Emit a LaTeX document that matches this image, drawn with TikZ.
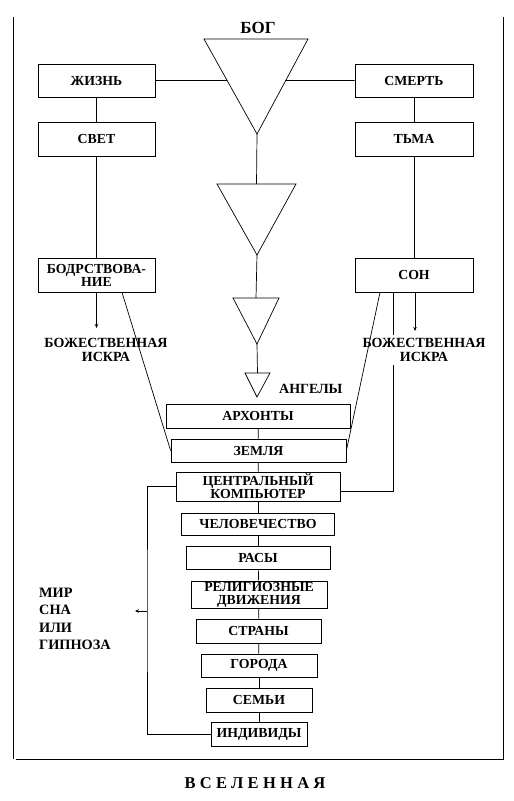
\documentclass[tikz,border=0pt]{standalone}
\usepackage{fontspec}
\setmainfont{Liberation Serif}
\usetikzlibrary{arrows.meta,calc}
\begin{document}
\begin{tikzpicture}[x=1pt,y=-1pt,
  ln/.style={line width=0.7pt},
  bx/.style 2 args={draw,line width=0.8pt,inner sep=1pt,align=center,
     minimum width=#1pt,minimum height=#2pt,
     font=\fontsize{13.8}{13}\selectfont\bfseries},
  lbl/.style={inner sep=2pt,align=center,font=\fontsize{14}{13.3}\selectfont\bfseries},
  arr/.style={ln,-{Stealth[length=4pt,width=3.5pt]}}]
\useasboundingbox (0,0) rectangle (514,801);

% frame
\draw[line width=0.9pt] (13,17) -- (13,759);
\draw[line width=0.9pt] (16,759) -- (504,759);
\draw[line width=0.9pt] (503,17) -- (503,759);

% title
\node[lbl,font=\fontsize{17}{17}\selectfont\bfseries] (bog) at (258,28) {БОГ};

% triangles
\coordinate (t1l) at (204,39); \coordinate (t1r) at (308,39); \coordinate (t1a) at (257,134);
\coordinate (t2l) at (217,184); \coordinate (t2r) at (296,184); \coordinate (t2a) at (257,255);
\coordinate (t3l) at (233,298); \coordinate (t3r) at (279,298); \coordinate (t3a) at (257,344);
\coordinate (t4l) at (245,373); \coordinate (t4r) at (270,373); \coordinate (t4a) at (257,397);
\draw[ln] (t1l) -- (t1r) -- (t1a) -- cycle;
\draw[ln] (t2l) -- (t2r) -- (t2a) -- cycle;
\draw[ln] (t3l) -- (t3r) -- (t3a) -- cycle;
\draw[ln] (t4l) -- (t4r) -- (t4a) -- cycle;
\draw[ln] (t1a) -- ($(t2l)!0.5!(t2r)$);
\draw[ln] (t2a) -- ($(t3l)!0.5!(t3r)$);
\draw[ln] (t3a) -- ($(t4l)!0.5!(t4r)$);

% side boxes
\node[bx={117}{33}] (zhizn) at (96.5,80.5) {ЖИЗНЬ};
\node[bx={118}{33}] (smert) at (414,80.5) {СМЕРТЬ};
\node[bx={117}{34}] (svet) at (96.5,139) {СВЕТ};
\node[bx={118}{34}] (tma) at (414,139) {ТЬМА};
\node[bx={117}{34}] (bodr) at (96.5,275) {БОДРСТВОВА-\\НИЕ};
\node[bx={118}{34}] (son) at (414,275) {СОН};

\draw[ln] (zhizn.east) -- (intersection of t1l--t1a and zhizn.east--smert.west);
\draw[ln] (smert.west) -- (intersection of t1r--t1a and zhizn.east--smert.west);
\draw[ln] (zhizn) -- (svet);
\draw[ln] (smert) -- (tma);
\draw[ln] (svet) -- (bodr);
\draw[ln] (tma) -- (son);

% central column
\node[bx={184}{24}] (arch) at (258,416) {АРХОНТЫ};
\node[bx={175}{23}] (zem) at (258.5,450.5) {ЗЕМЛЯ};
\node[bx={164}{29}] (cpu) at (258,486.5) {ЦЕНТРАЛЬНЫЙ\\КОМПЬЮТЕР};
\node[bx={153}{22}] (chel) at (258,524) {ЧЕЛОВЕЧЕСТВО};
\node[bx={144}{23}] (rasy) at (258,557.5) {РАСЫ};
\node[bx={136}{27}] (rel) at (259,594.5) {РЕЛИГИОЗНЫЕ\\ДВИЖЕНИЯ};
\node[bx={125}{24}] (str) at (258.5,631) {СТРАНЫ};
\node[bx={116}{23}] (gor) at (259,665.5) {ГОРОДА};
\node[bx={106}{24}] (sem) at (259,700) {СЕМЬИ};
\node[bx={96}{24}] (ind) at (259,734) {ИНДИВИДЫ};

\draw[ln] (arch) -- (zem);
\draw[ln] (zem) -- (cpu);
\draw[ln] (cpu) -- (chel);
\draw[ln] (chel) -- (rasy);
\draw[ln] (rasy) -- (rel);
\draw[ln] (rel) -- (str);
\draw[ln] (str) -- (gor);
\draw[ln] (gor) -- (sem);
\draw[ln] (sem) -- (ind);

\node[lbl,anchor=west] (ang) at (277,389) {АНГЕЛЫ};

% right long connector from СОН to computer
\coordinate (rx) at (393,0);
\draw[ln] (son.south -| rx) |- ([yshift=-4.5pt]cpu.east);

% divine spark labels (white background hides the connector)
\node[lbl,fill=white] (iskL) at (106,350) {БОЖЕСТВЕННАЯ\\ИСКРА};
\node[lbl,fill=white,inner ysep=4pt] (iskR) at (424,350) {БОЖЕСТВЕННАЯ\\ИСКРА};

% arrows to spark
\coordinate (aL) at (96.5,328);
\coordinate (aR) at (415,331);
\draw[arr] (bodr.south) -- (aL);
\draw[arr] (son.south -| aR) -- (aR);

% diagonals
\coordinate (dL) at (122,0);
\coordinate (dR) at (380,0);
\draw[ln] (bodr.south -| dL) -- (zem.west);
\draw[ln] (son.south -| dR) -- (zem.east);

% left loop
\coordinate (lp) at (147,611);
\coordinate (lpa) at (135,611);
\draw[ln] (ind.west) -| (lp) |- (cpu.west);
\draw[arr] (lp) -- (lpa);

\node[lbl,anchor=west,align=left,font=\fontsize{14.3}{17.3}\selectfont\bfseries] (mir) at (37,619) {МИР\\СНА\\ИЛИ\\ГИПНОЗА};

\node[lbl,font=\fontsize{16.5}{16}\selectfont\bfseries\addfontfeatures{LetterSpace=26}] (vsel) at (255,783) {ВСЕЛЕННАЯ};
\end{tikzpicture}
\end{document}
